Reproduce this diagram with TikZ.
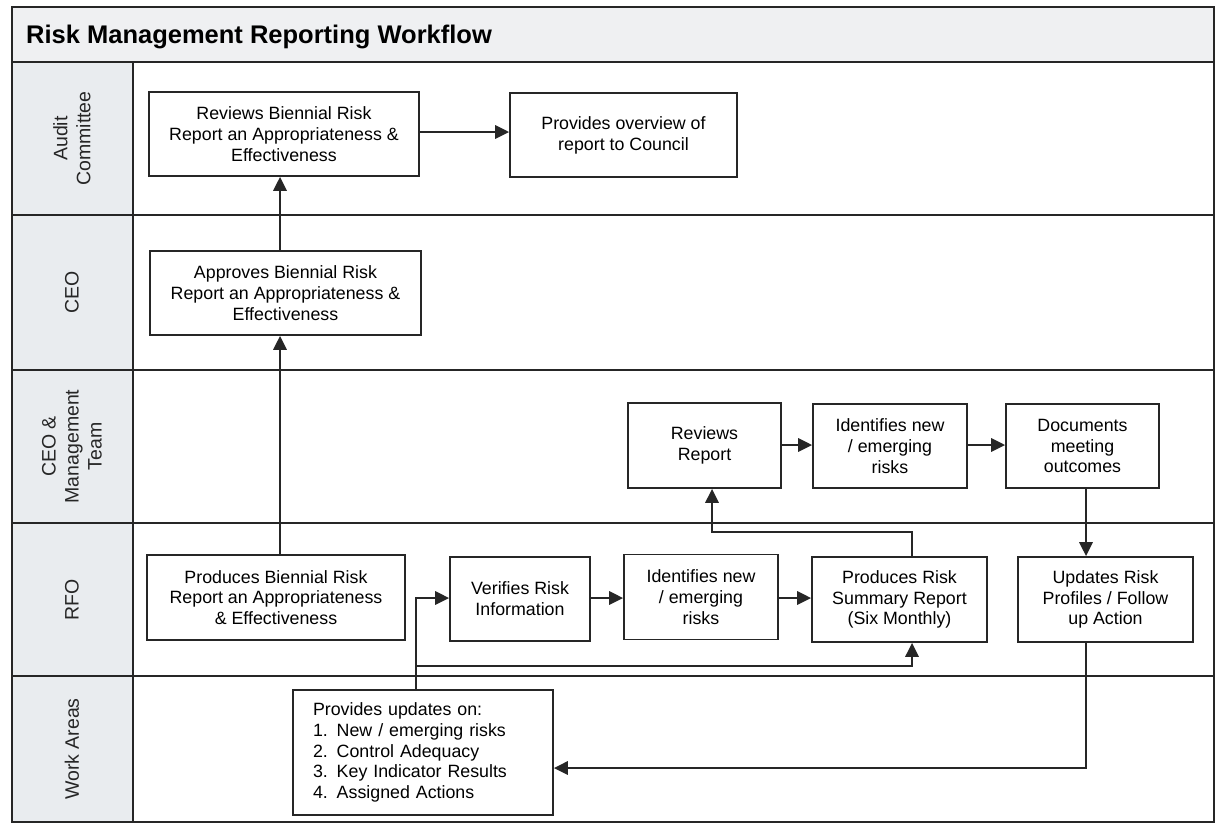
\documentclass[tikz,border=0pt]{standalone}
\usepackage{fontspec}
\setmainfont{Liberation Sans}
\usetikzlibrary{arrows.meta}
\definecolor{ink}{HTML}{262626}
\definecolor{bandgrey}{HTML}{EFF0F2}
\definecolor{colgrey}{HTML}{E9ECEF}
\newcommand{\bodyfont}{\fontsize{17.8}{20.8}\selectfont}
\newcommand{\labfont}{\fontsize{19.5}{23}\selectfont}
\tikzset{
  box/.style={draw=ink, line width=1.6pt, fill=white, align=center, inner sep=0pt, font=\bodyfont, text=black},
  lane/.style={draw=ink, line width=1.6pt},
  lanelabel/.style={rotate=90, align=center, font=\labfont, text=ink},
  arr/.style={draw=ink, line width=2.8pt, -{Triangle[length=14pt,width=13pt]}}
}
\begin{document}
\begin{tikzpicture}[x=1pt, y=-1pt]
\useasboundingbox (0,0) rectangle (1216,828);
% backgrounds
\fill[bandgrey] (11.7,7) rectangle (1214,62);
\fill[colgrey] (11.7,62) rectangle (133,822);
% frame and lanes
\draw[lane] (11.7,7) rectangle (1214,822);
\draw[lane] (11.7,62) -- (1214,62);
\draw[lane] (133,62) -- (133,822);
\draw[lane] (11.7,215) -- (1214,215);
\draw[lane] (11.7,370) -- (1214,370);
\draw[lane] (11.7,523) -- (1214,523);
\draw[lane] (11.7,676) -- (1214,676);
% title
\node[anchor=base west, inner sep=0pt, font=\fontsize{25.5}{30}\selectfont\bfseries, text=black] (title) at (26,43) {Risk Management Reporting Workflow};
% lane labels
\node[lanelabel] (lAudit) at (72,138.5) {Audit\\Committee};
\node[lanelabel] (lCEO) at (72,292.5) {CEO};
\node[lanelabel] (lMgmt) at (72,446.5) {CEO \&\\Management\\Team};
\node[lanelabel] (lRFO) at (72,599.5) {RFO};
\node[lanelabel] (lWork) at (72,749) {Work Areas};
% boxes
\node[box, minimum width=270pt, minimum height=84pt] (rev) at (284,134) {Reviews Biennial Risk\\Report an Appropriateness \&\\Effectiveness};
\node[box, minimum width=227pt, minimum height=84pt] (prov) at (623.5,135) {Provides overview of\\report to Council};
\node[box, minimum width=271pt, minimum height=84pt] (appr) at (285.5,293) {Approves Biennial Risk\\Report an Appropriateness \&\\Effectiveness};
\node[box, minimum width=153pt, minimum height=85pt] (revR) at (704.5,445.5) {Reviews\\Report};
\node[box, minimum width=154pt, minimum height=84pt] (idM) at (890,446) {Identifies new\\/ emerging\\risks};
\node[box, minimum width=153pt, minimum height=84pt] (doc) at (1082.5,446) {Documents\\meeting\\outcomes};
\node[box, minimum width=258pt, minimum height=85pt] (prodB) at (276,597.5) {Produces Biennial Risk\\Report an Appropriateness\\\& Effectiveness};
\node[box, minimum width=140pt, minimum height=84pt] (ver) at (520,599) {Verifies Risk\\Information};
\node[box, minimum width=154pt, minimum height=85pt] (idR) at (701,597) {Identifies new\\/ emerging\\risks};
\node[box, minimum width=175pt, minimum height=85pt] (sum) at (899.5,599.5) {Produces Risk\\Summary Report\\(Six Monthly)};
\node[box, minimum width=175pt, minimum height=85pt] (upd) at (1105.5,599.5) {Updates Risk\\Profiles / Follow\\up Action};
\node[box, align=left, text width=220pt, inner xsep=20pt, minimum height=125pt] (work) at (423,752.5) {Provides updates on:\\1. New / emerging risks\\2. Control Adequacy\\3. Key Indicator Results\\4. Assigned Actions};
% helper coordinates
\coordinate (aX) at (280,0);
\coordinate (wX) at (416,0);
\coordinate (sX) at (912,0);
\coordinate (rX) at (712,0);
\coordinate (dX) at (1086,0);
\coordinate (vY) at (0,598);
\coordinate (bY) at (0,666);
\coordinate (tY) at (0,532);
\coordinate (uY) at (0,768);
\coordinate (mY) at (0,445);
% connectors
\draw[arr] (rev.east |- 0,132) -- (prov.west |- 0,132);
\draw[arr] (appr.north -| aX) -- (rev.south -| aX);
\draw[arr] (prodB.north -| aX) -- (appr.south -| aX);
\draw[arr] (work.north -| wX) -- (wX |- vY) -- (ver.west |- vY);
\draw[arr] (wX |- bY) -- (sX |- bY) -- (sum.south -| sX);
\draw[arr] (ver.east |- vY) -- (idR.west |- vY);
\draw[arr] (idR.east |- vY) -- (sum.west |- vY);
\draw[arr] (sum.north -| sX) -- (sX |- tY) -- (rX |- tY) -- (revR.south -| rX);
\draw[arr] (revR.east |- mY) -- (idM.west |- mY);
\draw[arr] (idM.east |- mY) -- (doc.west |- mY);
\draw[arr] (doc.south -| dX) -- (upd.north -| dX);
\draw[arr] (upd.south -| dX) -- (dX |- uY) -- (work.east |- uY);
\end{tikzpicture}
\end{document}
